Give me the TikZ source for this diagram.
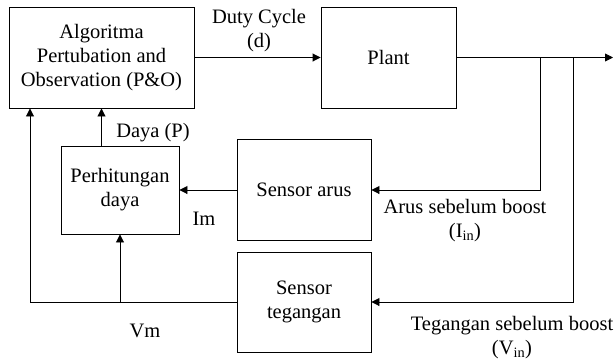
\documentclass[tikz,border=0pt]{standalone}
\usepackage{fontspec}
\setmainfont{Liberation Serif}
\usetikzlibrary{arrows.meta}
\begin{document}
\begin{tikzpicture}[x=1pt,y=-1pt,
  blk/.style={draw, line width=0.9pt, minimum width=#1, inner sep=0pt, align=center, font=\fontsize{20.5}{24}\selectfont},
  lbl/.style={inner sep=0pt, anchor=base, font=\fontsize{20.5}{24}\selectfont},
  wire/.style={line width=0.9pt},
  arr/.style={line width=0.9pt, -{Triangle[length=8pt,width=8pt]}}]
\useasboundingbox (0,0) rectangle (616,360);
\node[blk=185pt, minimum height=101pt] (alg) at (101.5,57.5) {Algoritma\\Pertubation and\\Observation (P\&O)};
\node[blk=135pt, minimum height=101pt] (plant) at (388.5,57.5) {Plant};
\node[blk=118pt, minimum height=88pt] (perh) at (120,190) {Perhitungan\\daya};
\node[blk=134pt, minimum height=101pt] (sarus) at (304,190) {Sensor arus};
\node[blk=134pt, minimum height=100pt] (steg) at (304,302) {Sensor\\tegangan};
\coordinate (out) at (613,57.5);
\coordinate (j1) at (540,57.5);
\coordinate (j2) at (573,57.5);
\coordinate (lf) at (30,302);
% connectors
\draw[arr] (alg.east) -- (plant.west);
\draw[arr] (plant.east) -- (out);
\draw[arr] (j1) |- (sarus.east);
\draw[arr] (j2) |- (steg.east);
\draw[arr] (sarus.west) -- (perh.east);
\draw[arr] (alg.south |- perh.north) -- (alg.south);
\draw[wire] (steg.west) -- (lf);
\draw[arr] (lf) -- (lf |- alg.south);
\draw[arr] (perh.south |- steg.west) -- (perh.south);
% labels
\node[lbl] (l1) at (259,23) {Duty Cycle};
\node[lbl] (l2) at (259,47) {(d)};
\node[lbl] (l3) at (153,137) {Daya (P)};
\node[lbl] (l4) at (204,225) {Im};
\node[lbl] (l5) at (145,337) {Vm};
\node[lbl] (l6) at (465,213) {Arus sebelum boost};
\node[lbl] (l7) at (465,237) {(I\textsubscript{in})};
\node[lbl] (l8) at (512,330) {Tegangan sebelum boost};
\node[lbl] (l9) at (512,354) {(V\textsubscript{in})};
\end{tikzpicture}
\end{document}
